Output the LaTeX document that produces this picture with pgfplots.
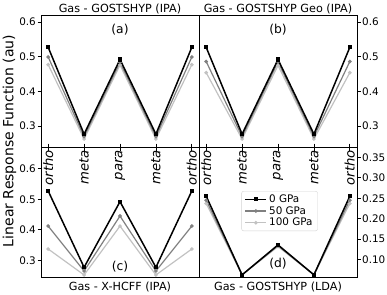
\documentclass[border=0pt]{standalone}
\usepackage{fontspec}
\setmainfont{DejaVu Sans}
\usepackage{pgfplots}
\usepackage{pgfplotstable}
\pgfplotsset{compat=1.18}
\newcommand\fsT{\fontsize{10.4}{12.5}\selectfont}
\newcommand\fsX{\fontsize{13.2}{15}\selectfont\itshape}
\newcommand\fsH{\fontsize{11.2}{13}\selectfont}
\newcommand\fsY{\fontsize{14}{16}\selectfont}
\newcommand\fsP{\fontsize{12.3}{14}\selectfont}
\newcommand\fsL{\fontsize{10.4}{12.5}\selectfont}
\definecolor{gB}{gray}{0.5}
\definecolor{gC}{gray}{0.76}

\pgfplotstableread{
x y0 y50 y100
0 0.527 0.499 0.477
1 0.277 0.270 0.263
2 0.492 0.484 0.476
3 0.277 0.270 0.263
4 0.527 0.499 0.477
}\dataA
\pgfplotstableread{
x y0 y50 y100
0 0.527 0.486 0.454
1 0.277 0.270 0.263
2 0.492 0.485 0.475
3 0.277 0.270 0.263
4 0.527 0.486 0.454
}\dataB
\pgfplotstableread{
x y0 y50 y100
0 0.527 0.412 0.337
1 0.277 0.265 0.252
2 0.492 0.445 0.412
3 0.277 0.265 0.252
4 0.527 0.412 0.337
}\dataC
\pgfplotstableread{
x y0 y50 y100
0 0.255 0.245 0.237
1 0.063 0.063 0.063
2 0.136 0.134 0.132
3 0.063 0.063 0.063
4 0.255 0.245 0.237
}\dataD

\pgfplotsset{
  panel/.style={
    scale only axis, width=158pt, clip=false,
    xmin=-0.2, xmax=4.2, xtick={0,1,2,3,4},
    axis line style={line width=0.8pt},
    every tick/.style={line width=0.8pt, black},
    major tick length=3.5pt,
    tick align=outside,
    /pgf/number format/assume math mode=true,
    yticklabel style={font=\fsT, inner xsep=1.5pt},
  },
  lowpanel/.style={
    xtick pos=right, xticklabel pos=right,
    xticklabels={ortho,meta,para,meta,ortho},
    xticklabel shift=-6.5pt,
    xticklabel style={rotate=90, anchor=east, inner sep=0pt, font=\fsX},
  },
  p0/.style={black, line width=1.5pt, mark=square*, mark size=1.4pt, mark options={solid}},
  p50/.style={gB, line width=1.2pt, mark=*, mark size=1.2pt},
  p100/.style={gC, line width=1.2pt, mark=*, mark size=1.2pt},
}

\begin{document}
\begin{tikzpicture}
\useasboundingbox (0,0) rectangle (387pt,-294pt);

% (a)
\begin{axis}[panel, at={(41pt,-15pt)}, anchor=north west, height=132pt,
  ymin=0.24, ymax=0.62, ytick={0.3,0.4,0.5,0.6},
  xtick pos=left, ytick pos=left, xticklabels={},
  yticklabel style={/pgf/number format/.cd, fixed, precision=1, fixed zerofill}]
\addplot[p100] table[x=x,y=y100]{\dataA};
\addplot[p50] table[x=x,y=y50]{\dataA};
\addplot[p0] table[x=x,y=y0]{\dataA};
\node[anchor=center, font=\fsP] at (rel axis cs:0.5,0.886) {(a)};
\node[anchor=base, font=\fsH] at (rel axis cs:0.5,1) [yshift=2.5pt] {Gas - GOSTSHYP (IPA)};
\end{axis}

% (b)
\begin{axis}[panel, at={(199pt,-15pt)}, anchor=north west, height=132pt,
  ymin=0.24, ymax=0.62, ytick={0.3,0.4,0.5,0.6},
  xtick pos=left, ytick pos=right, yticklabel pos=right, xticklabels={},
  yticklabel style={/pgf/number format/.cd, fixed, precision=1, fixed zerofill}]
\addplot[p100] table[x=x,y=y100]{\dataB};
\addplot[p50] table[x=x,y=y50]{\dataB};
\addplot[p0] table[x=x,y=y0]{\dataB};
\node[anchor=center, font=\fsP] at (rel axis cs:0.5,0.886) {(b)};
\node[anchor=base, font=\fsH] at (rel axis cs:0.5,1) [yshift=2.5pt] {Gas - GOSTSHYP Geo (IPA)};
\end{axis}

% (c)
\begin{axis}[panel, lowpanel, at={(41pt,-147pt)}, anchor=north west, height=130.7pt,
  ymin=0.243, ymax=0.671, ytick={0.3,0.4,0.5,0.6}, ytick pos=left,
  yticklabel style={/pgf/number format/.cd, fixed, precision=1, fixed zerofill}]
\addplot[p100] table[x=x,y=y100]{\dataC};
\addplot[p50] table[x=x,y=y50]{\dataC};
\addplot[p0] table[x=x,y=y0]{\dataC};
\node[anchor=center, font=\fsP] at (rel axis cs:0.5,0.084) {(c)};
\node[anchor=base, font=\fsH] at (rel axis cs:0.5,0) [yshift=-12.8pt] {Gas - X-HCFF (IPA)};
\end{axis}

% (d)
\begin{axis}[panel, lowpanel, at={(199pt,-147pt)}, anchor=north west, height=130.7pt,
  ymin=0.056, ymax=0.375, ytick={0.10,0.15,0.20,0.25,0.30,0.35},
  ytick pos=right, yticklabel pos=right,
  yticklabel style={/pgf/number format/.cd, fixed, precision=2, fixed zerofill},
  reverse legend,
  legend style={at={(0.51,0.51)}, anchor=center, font=\fsL, draw=gray!35,
    rounded corners=2pt, fill=white, row sep=-1.5pt, inner xsep=3pt, inner ysep=1.5pt},
  legend cell align=left,
  legend image code/.code={\draw[mark repeat=2,mark phase=2] plot coordinates {(0pt,0pt)(10.5pt,0pt)(21pt,0pt)};}]
\addplot[p100] table[x=x,y=y100]{\dataD};
\addlegendentry{100 GPa}
\addplot[p50] table[x=x,y=y50]{\dataD};
\addlegendentry{50 GPa}
\addplot[p0] table[x=x,y=y0]{\dataD};
\addlegendentry{0 GPa}
\node[anchor=center, font=\fsP] at (rel axis cs:0.5,0.108) {(d)};
\node[anchor=base, font=\fsH] at (rel axis cs:0.5,0) [yshift=-12.8pt] {Gas - GOSTSHYP (LDA)};
\end{axis}

\node[rotate=90, anchor=center, font=\fsY] at (9.5pt,-141pt) {Linear Response Function (au)};
\end{tikzpicture}
\end{document}
